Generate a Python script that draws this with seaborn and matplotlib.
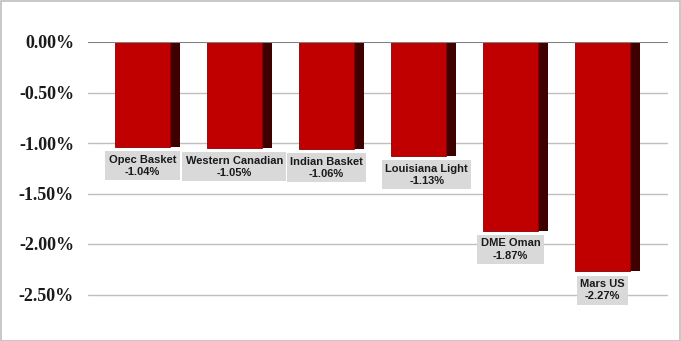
import matplotlib
matplotlib.use("Agg")
import matplotlib.pyplot as plt
import matplotlib.patches as mpatches
import seaborn as sns
import pandas as pd

categories = ["Opec Basket", "Western Canadian", "Indian Basket", "Louisiana Light", "DME Oman", "Mars US"]
values = [-1.04, -1.05, -1.06, -1.13, -1.87, -2.27]
yticks = [0.0, -0.5, -1.0, -1.5, -2.0, -2.5]

sns.set_theme(style="white")
plt.rcParams["font.family"] = ["Liberation Sans", "DejaVu Sans"]

df = pd.DataFrame({"cat": categories, "val": values})

fig = plt.figure(figsize=(6.81, 3.41), dpi=100)
W, H = 681, 341
top_px, ppu = 42, 101.0
ymin = -2.9
bottom_px = top_px + (-ymin) * ppu
ax = fig.add_axes([88 / W, 1 - bottom_px / H, (668 - 88) / W, (bottom_px - top_px) / H])

# grid lines
for t in yticks:
    if t == 0:
        continue
    ax.axhline(t, color="#bfbfbf", lw=1.0, zorder=0)

# side (3D depth) faces
xs = list(range(len(categories)))
ax.bar([x + 0.3 for x in xs], values, width=0.11, align="edge", color="#3f0000", zorder=2, linewidth=0)
sns.barplot(data=df, x="cat", y="val", ax=ax, color="#c00000", width=0.6, saturation=1,
            edgecolor="#8a0000", linewidth=0.6, zorder=3)
ax.axhline(0, color="#808080", lw=1.5, zorder=4)

label_dx = {3: 0.09}
for x, (c, v) in enumerate(zip(categories, values)):
    ax.text(x + label_dx.get(x, 0.0), v - 0.075, f"{c}\n{v:.2f}%", ha="center", va="top",
            fontsize=8, fontweight="bold",
            color="#1a1a1a", linespacing=1.3,
            bbox=dict(boxstyle="square,pad=0.3", facecolor="#d9d9d9", edgecolor="none"), zorder=5)

ax.set_xlim(-0.592, 5.712)
ax.set_ylim(ymin, 0)
ax.set_yticks(yticks)
ax.set_yticklabels([f"{t:.2f}%" for t in yticks], fontsize=13, fontweight="bold", color="#1a1a1a",
                   family=["Liberation Serif", "DejaVu Serif"])
ax.set_xticks([])
ax.set_xlabel("")
ax.set_ylabel("")
ax.tick_params(axis="y", length=0, pad=10)
for s in ax.spines.values():
    s.set_visible(False)
ax.patch.set_alpha(0)

fig.patches.append(mpatches.Rectangle((0.5 / W, 0.5 / H), (W - 1.5) / W, (H - 1.5) / H,
                                      transform=fig.transFigure, fill=False, edgecolor="#bfbfbf", lw=1.2))
fig.savefig("out.png", dpi=100)
